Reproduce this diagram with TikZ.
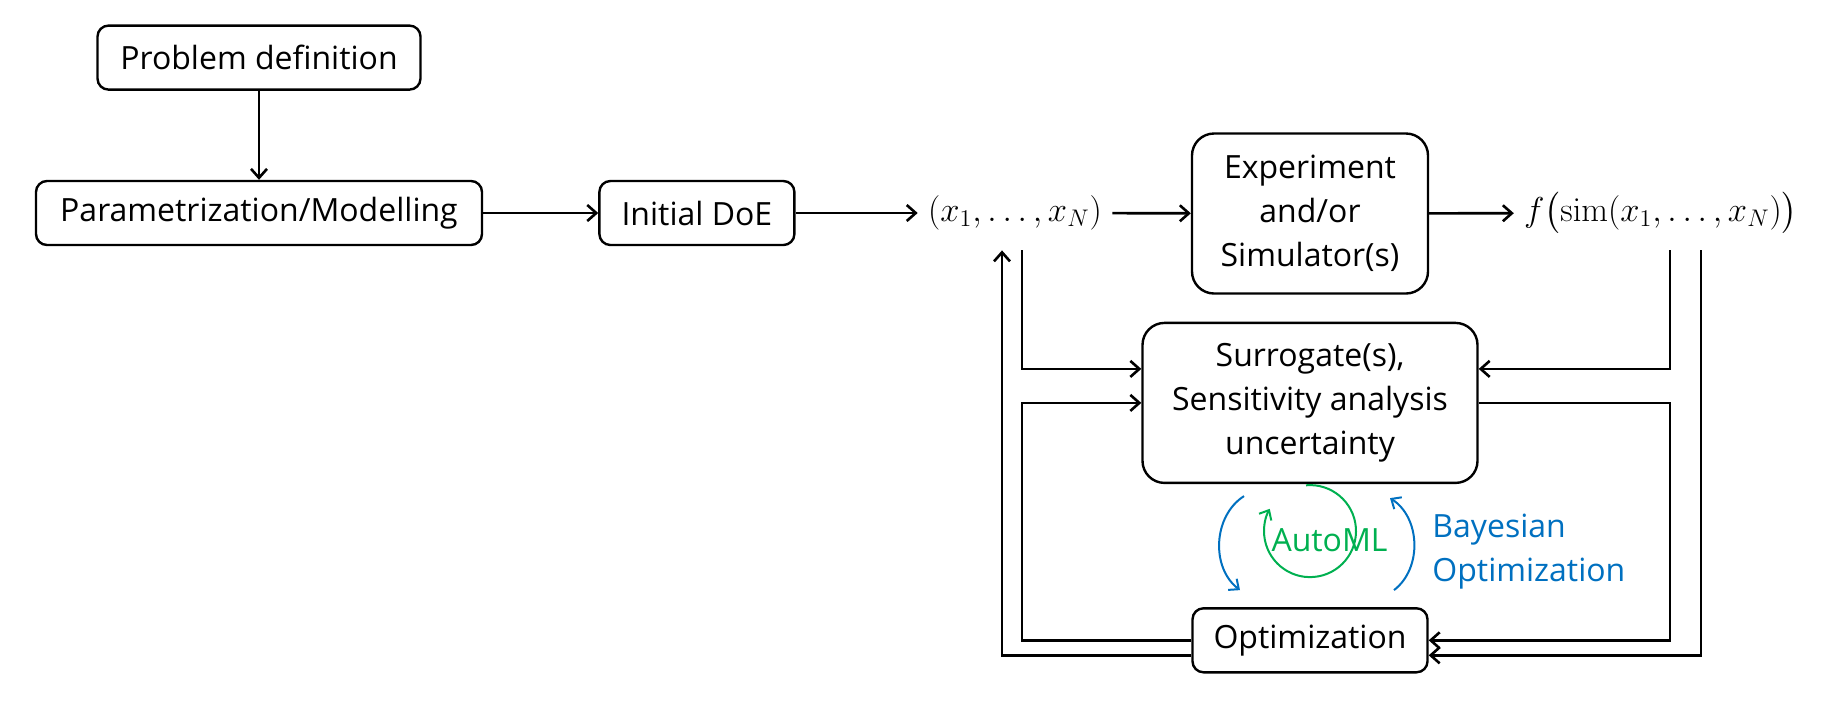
\documentclass[tikz,border=0pt]{standalone}
\usepackage{amsmath}
\usepackage[no-math]{fontspec}
\setmainfont{Open Sans}
\usetikzlibrary{arrows.meta,positioning}
\definecolor{mlgreen}{HTML}{00B050}
\definecolor{boblue}{HTML}{0070C0}
\newcommand\figfont{\fontsize{16}{22}\selectfont}
\newcommand\mathfont{\fontsize{17.5}{22}\selectfont}

\begin{document}
\begin{tikzpicture}[x=0.5pt, y=-0.5pt,
  box/.style={draw, line width=1.2pt, rounded corners=5.5pt, align=center,
              font=\figfont, minimum height=32pt, inner sep=0pt},
  bigbox/.style={box, rounded corners=11pt, minimum height=80pt},
  term/.style={font=\mathfont, inner xsep=5pt, inner ysep=0pt, minimum height=37pt},
  arr/.style={-{Straight Barb[length=4.5pt,width=8pt]}, line width=1.3pt},
  loop/.style={-{Straight Barb[length=4pt,width=7pt]}, line width=1pt, draw=boblue},
  mlloop/.style={-{Straight Barb[length=4pt,width=7pt]}, line width=1pt, draw=mlgreen}]
  \useasboundingbox (0,0) rectangle (1842,709);
  % top row
  \node[box, minimum width=223pt] (param) at (259,213) {Parametrization/Modelling};
  \node[box, minimum width=161.5pt, above=44.5pt of param] (prob) {Problem definition};
  \node[box, minimum width=97.5pt, right=57.5pt of param] (doe) {Initial DoE};
  \node[term] (tuple) at (1015,213) {$(x_1,\ldots,x_N)$};
  \node[bigbox, minimum width=118pt] (exp) at (1310,213.5) {Experiment\\and/or\\Simulator(s)};
  \node[term] (f) at (1661,213) {$f\big(\mathrm{sim}(x_1,\ldots,x_N)\big)$};
  % loop
  \node[bigbox, minimum width=167.5pt, below=13.5pt of exp] (sur) {Surrogate(s),\\Sensitivity analysis\\uncertainty};
  \node[box, minimum width=117.5pt, below=61.5pt of sur] (opt) {Optimization};
  \coordinate (xin) at ([xshift=3.5pt]tuple.south);
  \coordinate (xup) at ([xshift=-6.5pt]tuple.south);
  \coordinate (fin) at ([xshift=4.5pt]f.south);
  \coordinate (fout) at ([xshift=20pt]f.south);
  \coordinate (ml) at ([yshift=-23.5pt]sur.south);
  \draw[arr] (prob) -- (param);
  \draw[arr] (param) -- (doe);
  \draw[arr] (doe) -- (tuple);
  \draw[arr] (tuple) -- (exp);
  \draw[arr] (exp) -- (f);
  \draw[arr] (xin) |- ([yshift=17pt]sur.west);
  \draw[arr] (opt.west) -| (xin |- sur.west) -- (sur.west);
  \draw[arr] ([yshift=-7.5pt]opt.west) -| (xup);
  \draw[arr] (fin) |- ([yshift=17pt]sur.east);
  \draw[arr] (sur.east) -| (fin |- opt.east) -- (opt.east);
  \draw[arr] (fout) |- ([yshift=-7.5pt]opt.east);
  % inner loops
  \draw[loop] ([xshift=-33pt,yshift=-6pt]sur.south) to[bend right=55] ([xshift=-35pt,yshift=8.5pt]opt.north);
  \draw[loop] ([xshift=42pt,yshift=8.5pt]opt.north) to[bend right=55] ([xshift=40pt,yshift=-7pt]sur.south);
  \draw[mlloop] (ml) ++(95:23pt) arc[start angle=95, end angle=-209, radius=23pt];
  \node[text=mlgreen, font=\figfont, inner sep=1pt] (automl) at ([xshift=9.75pt,yshift=-4.5pt]ml) {AutoML};
  \node[text=boblue, font=\figfont, inner sep=1pt, align=left, anchor=west] (bo) at (1430,552) {Bayesian\\Optimization};
\end{tikzpicture}
\end{document}
